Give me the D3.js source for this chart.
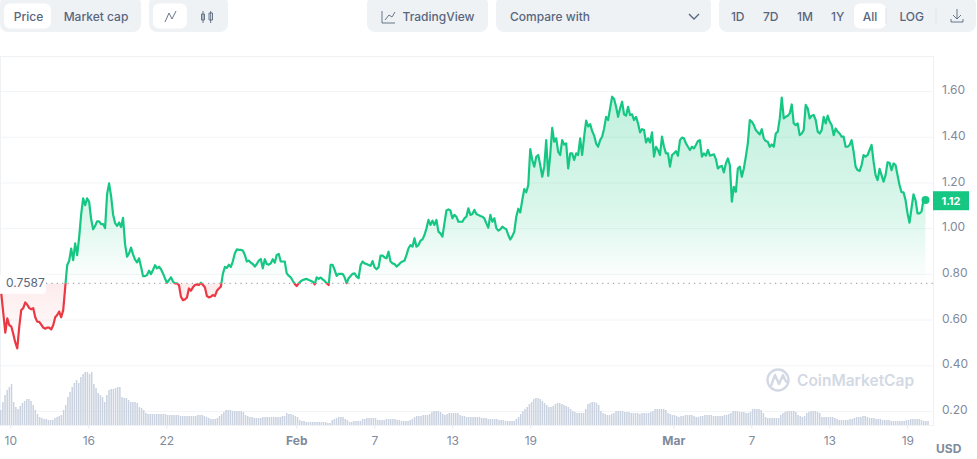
<!DOCTYPE html>
<html>
<head>
<meta charset="utf-8">
<script src="https://cdn.jsdelivr.net/npm/d3@7"></script>
<style>
  body { margin: 0; background: #fff; }
  text { font-family: Inter, "Noto Sans", sans-serif; }
</style>
</head>
<body>
<svg id="chart" width="977" height="459"></svg>
<script>
// price
var basePrice = 0.7587
var lastPrice = 1.12
var priceStart = "2024-01-09T07:24:00Z"
var priceStepHours = 3.685
var priceValues = [
  .712,.627,.543,.605,.575,.570,.537,.500,.474,.569,.642,.650,.675,.665,.650,.645,.650,.610,.591,.590,
  .578,.565,.560,.565,.565,.557,.575,.610,.620,.635,.610,.640,.740,.838,.857,.911,.860,.933,.882,.960,
  1.06,1.13,1.10,1.13,1.115,1.04,.995,1.01,1.03,1.03,1.018,1.018,1.0,1.15,1.196,1.14,1.06,1.022,1.01,1.025,
  1.005,1.045,.93,.875,.89,.915,.885,.862,.85,.868,.831,.79,.79,.795,.814,.799,.817,.838,.824,.831,
  .82,.802,.78,.761,.773,.785,.766,.758,.758,.751,.70,.685,.688,.697,.736,.726,.741,.751,.754,.751,
  .761,.751,.741,.703,.697,.70,.707,.703,.726,.736,.744,.80,.83,.826,.84,.83,.855,.89,.907,.905,
  .905,.902,.883,.854,.858,.849,.843,.832,.843,.858,.865,.824,.864,.843,.840,.846,.864,.849,.883,.887,
  .854,.854,.854,.802,.792,.785,.770,.756,.747,.759,.767,.773,.776,.778,.773,.770,.766,.754,.785,.778,
  .784,.776,.769,.759,.751,.839,.839,.817,.791,.8,.8,.8,.785,.759,.781,.791,.8,.802,.788,.781,
  .839,.854,.846,.843,.839,.835,.856,.829,.82,.829,.88,.88,.872,.868,.897,.854,.846,.843,.832,.839,
  .849,.854,.858,.883,.912,.926,.919,.956,.919,.926,.945,.951,.97,.999,1.036,1.014,1.033,1.014,1.036,.985,
  .977,.963,1.021,1.077,1.082,1.077,1.043,1.058,1.05,1.028,1.028,1.028,1.043,1.05,1.087,1.058,1.062,1.08,1.062,1.058,
  1.053,1.05,1.043,1.021,1.002,1.058,1.028,1.043,1.0,.989,.995,1.007,1.0,.995,.97,.95,.965,.985,1.05,1.085,
  1.069,1.123,1.171,1.157,1.189,1.346,1.298,1.269,1.312,1.320,1.276,1.225,1.269,1.385,1.229,1.320,1.439,1.378,1.393,1.334,
  1.320,1.385,1.366,1.371,1.261,1.327,1.327,1.298,1.327,1.320,1.393,1.320,1.400,1.470,1.445,1.455,1.425,1.405,1.37,1.356,
  1.385,1.400,1.436,1.487,1.473,1.524,1.575,1.565,1.531,1.487,1.524,1.553,1.498,1.492,1.531,1.495,1.498,1.473,1.487,1.458,
  1.419,1.433,1.429,1.375,1.393,1.375,1.419,1.313,1.356,1.342,1.320,1.400,1.356,1.327,1.327,1.269,1.320,1.327,1.337,1.317,
  1.385,1.396,1.393,1.371,1.356,1.342,1.356,1.349,1.364,1.381,1.385,1.313,1.327,1.317,1.342,1.317,1.320,1.323,1.302,1.261,
  1.269,1.272,1.244,1.283,1.305,1.276,1.116,1.181,1.159,1.261,1.269,1.225,1.261,1.313,1.371,
  1.473,1.466,1.451,1.429,1.419,1.410,1.433,1.393,1.381,1.378,1.356,1.366,1.356,1.414,1.422,1.480,1.571,1.480,1.487,1.492,
  1.502,1.541,1.458,1.451,1.458,1.407,1.414,1.429,1.539,1.524,1.480,1.492,1.495,1.473,1.422,1.414,1.429,1.487,1.458,1.492,
  1.466,1.451,1.407,1.436,1.422,1.414,1.400,1.400,1.356,1.356,1.364,1.385,1.334,1.269,1.254,1.250,1.276,1.320,1.313,1.320,
  1.342,1.364,1.291,1.232,1.210,1.259,1.232,1.203,1.232,1.288,1.286,1.254,1.283,1.276,1.232,1.189,1.157,1.157,1.123,1.065,
  1.024,1.087,1.148,1.123,1.065,1.065,1.072,1.123,1.123
]

// volume, relative height of each 4h bar
var volumeStart = "2024-01-09T06:18:00Z"
var volumeStepHours = 4
var volumeValues = [
  15,23,30,35,38,41,23,18,16,19,22,24,26,26,24,20,15,11,8,7,6,6,5,5,5,7,8,9,10,15,20,28,33,38,42,45,42,48,51,53,53,51,53,41,37,32,30,28,23,30,
  35,36,36,37,38,38,28,27,27,25,23,23,23,22,18,17,15,12,11,
  11,11,11,11,11,11,11,11,10,10,10,10,10,10,9,9,9,9,9,9,9,
  9,10,10,10,9,8,7,6,6,6,7,9,11,13,15,15,15,14,14,14,14,14,13,10,9,8,8,7,7,7,7,8,8,8,8,8,8,8,8,8,9,9,12,11,11,10,9,8,5,4,4,3,3,3,3,3,3,3,
  3,3,3,2,2,5,6,7,8,8,8,6,5,3,3,4,4,4,4,6,6,7,7,7,7,7,5,5,5,5,6,6,6,6,6,5,5,4,4,4,4,5,6,8,9,9,9,10,10,10,
  11,13,14,14,14,13,11,10,11,12,12,12,12,12,10,9,9,8,8,8,8,8,8,8,7,7,7,6,6,6,6,6,5,5,5,4,4,4,4,4,6,8,11,14,16,18,21,23,26,27,
  27,26,24,22,20,18,18,19,21,22,22,21,20,19,18,16,14,13,12,12,12,12,16,21,22,23,23,22,20,14,12,11,10,10,11,12,14,14,14,14,13,13,13,12,12,12,12,11,
  12,12,12,12,13,14,16,16,16,16,16,15,12,11,10,10,9,8,9,9,10,10,10,10,9,8,8,9,9,10,10,10,10,9,9,9,9,9,10,10,11,12,14,14,14,13,13,13,12,12,
  13,16,16,16,16,15,12,8,7,7,7,7,7,7,10,12,13,14,14,14,14,13,10,9,8,9,12,13,14,14,14,13,12,8,8,8,8,8,8,7,6,5,5,5,5,5,6,6,7,8,
  8,8,9,9,8,7,7,7,6,6,6,5,5,5,5,4,4,4,4,4,4,4,5,5,6,6,6,6,6,5,4,4,4
]

// axis labels
var priceTicks = [0.2, 0.4, 0.6, 0.8, 1.0, 1.2, 1.4, 1.6]
var dateTicks = [
  ["2024-01-10", "10"], ["2024-01-16", "16"], ["2024-01-22", "22"], ["2024-02-01", "Feb"],
  ["2024-02-07", "7"], ["2024-02-13", "13"], ["2024-02-19", "19"], ["2024-03-01", "Mar"],
  ["2024-03-07", "7"], ["2024-03-13", "13"], ["2024-03-19", "19"]
]

var green = "#16c784"
var red = "#ea3943"
var grey = "#808a9d"
var btnText = "#58667e"
var btnBg = "#eff2f5"

var svg = d3.select("#chart")

var x = d3.scaleUtc()
  .domain([new Date("2024-01-10T00:00:00Z"), new Date("2024-03-19T00:00:00Z")])
  .range([10.3, 907.3])
var y = d3.scaleLinear().domain([0.2, 1.6]).range([411, 91])
var yVol = d3.scaleLinear().domain([0, 100]).range([425, 325])

function stepDate(start, hours, i) {
  return new Date(+new Date(start) + i * hours * 3600000)
}

var prices = priceValues.map(function (v, i) {
  return { date: stepDate(priceStart, priceStepHours, i), value: v }
})
var volumes = volumeValues.map(function (v, i) {
  return { date: stepDate(volumeStart, volumeStepHours, i), value: v }
})

// gradients and the clips that split the line at the base price
var defs = svg.append("defs")
var baseY = y(basePrice)

var greenGrad = defs.append("linearGradient").attr("id", "greenFill")
  .attr("gradientUnits", "userSpaceOnUse")
  .attr("x1", 0).attr("x2", 0).attr("y1", y(1.6)).attr("y2", baseY)
greenGrad.append("stop").attr("offset", 0).attr("stop-color", green).attr("stop-opacity", 0.27)
greenGrad.append("stop").attr("offset", 0.65).attr("stop-color", green).attr("stop-opacity", 0.15)
greenGrad.append("stop").attr("offset", 1).attr("stop-color", green).attr("stop-opacity", 0)

var redGrad = defs.append("linearGradient").attr("id", "redFill")
  .attr("gradientUnits", "userSpaceOnUse")
  .attr("x1", 0).attr("x2", 0).attr("y1", baseY).attr("y2", y(0.45))
redGrad.append("stop").attr("offset", 0).attr("stop-color", red).attr("stop-opacity", 0.1)
redGrad.append("stop").attr("offset", 1).attr("stop-color", red).attr("stop-opacity", 0)

defs.append("clipPath").attr("id", "above").append("rect")
  .attr("x", 0).attr("y", 0).attr("width", 933).attr("height", baseY)
defs.append("clipPath").attr("id", "below").append("rect")
  .attr("x", 0).attr("y", baseY).attr("width", 933).attr("height", 459 - baseY)

// frame
svg.append("line").attr("x1", 0).attr("x2", 933).attr("y1", 56.5).attr("y2", 56.5).attr("stroke", "#eff2f5")
svg.append("line").attr("x1", 0.5).attr("x2", 0.5).attr("y1", 56).attr("y2", 426).attr("stroke", "#eff2f5")

// y axis with gridlines
var yAxis = svg.append("g")
  .attr("transform", "translate(933,0)")
  .call(d3.axisRight(y).tickValues(priceTicks).tickSize(0).tickPadding(9).tickFormat(d3.format(".2f")))
yAxis.select(".domain").remove()
yAxis.selectAll("text").attr("fill", grey).attr("dy", "0.22em").style("font-size", "12px").style("font-family", "Inter")
yAxis.selectAll(".tick").append("line")
  .attr("x1", -932).attr("x2", 0).attr("stroke", "#f3f4f7")
svg.append("line").attr("x1", 933.5).attr("x2", 933.5).attr("y1", 56).attr("y2", 426).attr("stroke", "#eff2f5")

// volume bars
svg.append("g").selectAll("rect").data(volumes).enter().append("rect")
  .attr("x", function (d) { return x(d.date) - 0.75 })
  .attr("y", function (d) { return yVol(d.value) })
  .attr("width", 1.5)
  .attr("height", function (d) { return yVol(0) - yVol(d.value) })
  .attr("fill", "#cad2e0")

// x axis
var xAxis = svg.append("g")
  .attr("transform", "translate(0,425.5)")
  .call(d3.axisBottom(x)
    .tickValues(dateTicks.map(function (d) { return new Date(d[0] + "T00:00:00Z") }))
    .tickSize(3).tickPadding(8)
    .tickFormat(function (d, i) { return dateTicks[i][1] }))
xAxis.select(".domain").attr("stroke", "#eff2f5").attr("d", "M0,0H933")
xAxis.selectAll(".tick line").attr("stroke", "#e3e7ee")
xAxis.selectAll("text")
  .attr("fill", grey)
  .style("font-size", "12px")
  .style("font-family", "Inter")
  .style("font-weight", function (d, i) { return isNaN(+dateTicks[i][1]) ? 700 : 400 })

svg.append("text").attr("x", 936).attr("y", 453)
  .attr("fill", grey).style("font-size", "12px").style("font-weight", 700).text("USD")

// watermark
var mark = svg.append("g").attr("fill", "none").attr("stroke", "#d3d9e4")
mark.append("circle").attr("cx", 778).attr("cy", 380).attr("r", 10.5).attr("stroke-width", 2.4)
mark.append("path").attr("stroke-width", 2.4).attr("stroke-linejoin", "round")
  .attr("d", "M771,386L775,375L779,384L783,375C785,380 786,383 789,382")
svg.append("text").attr("x", 797).attr("y", 386).attr("fill", "#d3d9e4")
  .style("font-size", "15.5px").style("font-weight", 600).text("CoinMarketCap")

// price area and line
var area = d3.area()
  .x(function (d) { return x(d.date) })
  .y0(baseY)
  .y1(function (d) { return y(d.value) })
var line = d3.line()
  .x(function (d) { return x(d.date) })
  .y(function (d) { return y(d.value) })

svg.append("path").datum(prices).attr("d", area).attr("fill", "url(#greenFill)").attr("clip-path", "url(#above)")
svg.append("path").datum(prices).attr("d", area).attr("fill", "url(#redFill)").attr("clip-path", "url(#below)")

// base price marker
svg.append("rect").attr("x", 0).attr("y", 273).attr("width", 46).attr("height", 21).attr("rx", 4)
  .attr("fill", "#fff").attr("fill-opacity", 0.85)
svg.append("line").attr("x1", 46).attr("x2", 933).attr("y1", baseY).attr("y2", baseY)
  .attr("stroke", "#8b94a5").attr("stroke-dasharray", "1.2 4.2")
svg.append("text").attr("x", 6).attr("y", baseY + 4).attr("fill", btnText)
  .style("font-size", "12px").text(d3.format(".4f")(basePrice))

svg.append("path").datum(prices).attr("d", line).attr("fill", "none").attr("stroke", green)
  .attr("stroke-width", 2.2).attr("stroke-linejoin", "round").attr("clip-path", "url(#above)")
svg.append("path").datum(prices).attr("d", line).attr("fill", "none").attr("stroke", red)
  .attr("stroke-width", 2.2).attr("stroke-linejoin", "round").attr("clip-path", "url(#below)")

var last = prices[prices.length - 1]
svg.append("circle").attr("cx", x(last.date)).attr("cy", y(last.value)).attr("r", 4).attr("fill", green)

// current price tag
svg.append("rect").attr("x", 933).attr("y", y(lastPrice) - 9.5).attr("width", 36).attr("height", 19).attr("fill", green)
svg.append("text").attr("x", 951).attr("y", y(lastPrice) + 4).attr("text-anchor", "middle").attr("fill", "#fff")
  .style("font-size", "11px").style("font-weight", 700).text(d3.format(".2f")(lastPrice))

// toolbar
var panels = [[0, 141], [149, 79], [367, 121], [496, 215], [719, 257]]
var pills = [[4, 47], [153, 34], [854, 32]]
var labels = [
  ["Price", 28.5], ["Market cap", 96], ["TradingView", 438.5], ["1D", 737.7], ["7D", 770.7],
  ["1M", 805], ["1Y", 837.7], ["All", 870], ["LOG", 911.7]
]
var bar = svg.append("g")
bar.selectAll(".panel").data(panels).enter().append("rect").attr("class", "panel")
  .attr("x", function (d) { return d[0] }).attr("y", -4)
  .attr("width", function (d) { return d[1] }).attr("height", 36).attr("rx", 8)
  .attr("fill", btnBg)
bar.selectAll(".pill").data(pills).enter().append("rect").attr("class", "pill")
  .attr("x", function (d) { return d[0] }).attr("y", 3.5)
  .attr("width", function (d) { return d[1] }).attr("height", 25).attr("rx", 6)
  .attr("fill", "#fff")
bar.selectAll(".lab").data(labels).enter().append("text").attr("class", "lab")
  .attr("x", function (d) { return d[1] }).attr("y", 20.5)
  .attr("text-anchor", "middle").attr("fill", btnText)
  .style("font-size", "12px").style("font-weight", 500)
  .text(function (d) { return d[0] })
bar.append("text").attr("x", 510).attr("y", 21).attr("fill", btnText)
  .style("font-size", "12px").style("font-weight", 500).text("Compare with")

bar.selectAll(".sep").data([886, 936]).enter().append("line").attr("class", "sep")
  .attr("x1", function (d) { return d }).attr("x2", function (d) { return d })
  .attr("y1", 8).attr("y2", 24).attr("stroke", "#dfe3ea")

// icons
var icons = bar.append("g").attr("fill", "none").attr("stroke", btnText).attr("stroke-width", 0.9)
icons.append("path").attr("d", "M165,22L169,13L172,19L176,11")
icons.append("path").attr("d", "M201.5,14H204.5V20H201.5ZM209,13H212.5V20H209ZM203,11V23M210.7,11V23")
icons.append("path").attr("d", "M382,11V23H395M385,20L389,15L392,17L395,12")
icons.append("path").attr("stroke-width", 1.4).attr("d", "M689,14L694,19L699,14")
icons.append("path").attr("d", "M957,9V19M953,15L957,19L961,15M951,19V22H963V19")
</script>
</body>
</html>
